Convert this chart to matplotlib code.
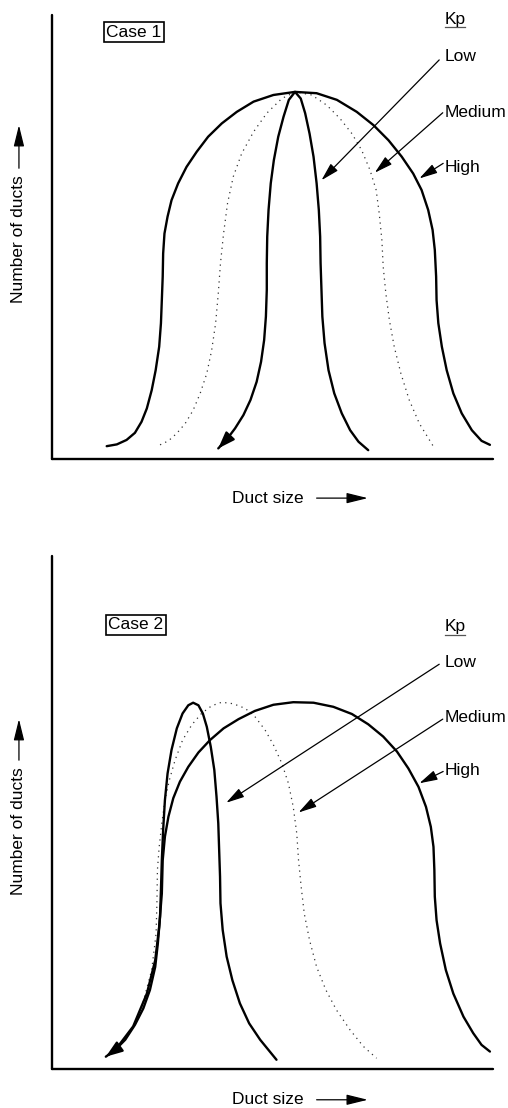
import matplotlib
matplotlib.use("Agg")
import matplotlib.pyplot as plt

plt.rcParams['font.family'] = ['Liberation Sans', 'DejaVu Sans']

# Case 1 curves (duct size, number of ducts) on a 0-100 scale
c1_high_x = [12.4, 14.7, 16.9, 18.8, 20.3, 21.5, 22.6, 23.5, 24.3, 24.7, 24.9, 25.1, 25.2, 25.5, 26.2,
             27.1, 28.6, 30.5, 32.8, 35.4, 38.5, 41.9, 45.7, 50.2, 55.1, 60.0, 64.6, 69.1, 72.9,
             76.3, 79.3, 81.9, 83.8, 85.3, 86.3, 86.8, 87.1, 87.2, 87.6, 88.4, 89.5, 91.0, 92.9,
             95.2, 97.4, 99.3]
c1_high_y = [2.9, 3.3, 4.3, 5.9, 8.4, 11.4, 15.5, 20.0, 25.3, 30.6, 35.8, 41.1, 46.3, 50.8, 54.6,
             58.3, 62.1, 65.8, 69.2, 72.6, 75.6, 78.2, 80.5, 82.0, 82.7, 82.4, 80.9, 78.2, 75.2,
             71.8, 68.1, 64.3, 60.6, 56.1, 51.6, 47.1, 41.1, 35.8, 30.6, 25.3, 20.0, 14.8, 10.3,
             6.5, 4.1, 3.2]
c1_med_x = [24.5, 26.4, 28.3, 30.2, 32.0, 33.6, 35.1, 36.2, 37.1, 37.7, 38.2, 38.9, 39.8, 41.1,
            43.0, 45.7, 48.7, 52.1, 55.1, 58.9, 62.3, 65.3, 68.0, 70.2, 72.1, 73.5, 74.2, 74.8,
            75.1, 75.7, 76.5, 77.6, 79.1, 81.0, 83.3, 86.5]
c1_med_y = [3.2, 4.1, 5.8, 8.0, 11.0, 14.8, 19.3, 24.5, 30.6, 37.3, 44.1, 50.8, 57.6, 63.6,
            68.8, 73.7, 77.9, 81.2, 82.7, 82.0, 79.7, 76.7, 73.3, 69.6, 65.1, 60.6, 55.3, 49.3,
            43.3, 37.3, 31.3, 25.3, 19.3, 13.3, 8.0, 2.8]
c1_low_x = [37.7, 39.6, 41.5, 43.4, 45.0, 46.4, 47.4, 48.1, 48.5, 48.7, 48.7, 48.8, 49.1, 49.6,
            50.3, 51.3, 52.5, 53.7, 55.1, 56.4, 57.4, 58.4, 59.3, 60.0, 60.5, 60.8, 60.9, 61.1,
            61.3, 61.8, 62.7, 64.0, 65.7, 67.6, 69.5, 71.7]
c1_low_y = [2.4, 4.4, 6.9, 9.9, 13.3, 17.4, 21.9, 26.8, 32.1, 38.1, 44.1, 50.1, 56.1, 62.1,
            67.3, 72.6, 77.1, 80.9, 82.7, 81.2, 77.9, 73.3, 68.1, 62.1, 56.1, 50.1, 44.1, 38.1,
            32.1, 26.1, 20.0, 14.8, 10.3, 6.5, 3.9, 2.0]

# Case 2 curves
c2_high_x = [13.9, 18.4, 21.5, 23.4, 24.3, 24.9, 25.1, 25.6, 26.4, 27.5, 29.0, 30.9, 33.2, 35.8,
             38.9, 42.3, 46.0, 50.2, 54.7, 59.3, 63.8, 68.0, 71.7, 75.1, 78.2, 80.8, 83.1, 84.8,
             85.9, 86.5, 86.7, 86.8, 87.2, 88.0, 89.3, 91.0, 93.3, 95.5, 97.4, 99.3]
c2_high_y = [3.2, 8.3, 14.7, 21.2, 27.7, 34.2, 40.7, 45.3, 49.2, 52.8, 56.0, 58.9, 61.7, 64.1,
             66.4, 68.2, 69.8, 71.0, 71.5, 71.4, 70.6, 69.2, 67.2, 64.8, 61.9, 58.6, 55.0, 51.1,
             47.2, 43.3, 38.8, 33.6, 29.0, 24.5, 19.3, 14.7, 10.2, 7.0, 4.7, 3.4]
c2_med_x = [20.0, 22.6, 23.6, 23.8, 23.9, 24.3, 24.9, 25.6, 26.6, 27.9, 29.6, 31.7, 33.9, 36.2,
            38.5, 41.1, 43.8, 46.0, 48.3, 50.2, 52.1, 53.6, 54.7, 55.5, 55.9, 56.5, 57.2, 58.4,
            60.0, 62.1, 64.5, 67.6, 70.6, 73.6]
c2_med_y = [10.9, 19.3, 26.4, 32.9, 38.8, 43.3, 47.9, 52.4, 56.3, 60.2, 64.1, 67.1, 69.3, 70.8,
            71.5, 71.2, 70.3, 68.7, 66.1, 63.2, 59.6, 55.7, 51.1, 45.9, 40.7, 35.5, 30.3, 25.1,
            19.9, 15.4, 11.5, 7.6, 4.4, 2.1]
c2_low_x = [12.2, 14.3, 16.6, 18.8, 20.7, 22.2, 23.4, 24.0, 24.5, 24.7, 24.9, 25.2, 25.6, 26.2,
            27.1, 28.3, 29.6, 30.9, 32.0, 33.2, 34.2, 35.1, 36.0, 36.8, 37.3, 37.7, 37.9, 38.1,
            38.2, 38.7, 39.6, 40.9, 42.6, 44.7, 47.2, 50.9]
c2_low_y = [2.4, 3.7, 5.7, 8.6, 11.8, 15.4, 19.9, 24.5, 29.7, 34.9, 40.7, 46.6, 52.4, 57.6,
            62.2, 66.4, 69.3, 70.9, 71.4, 70.9, 69.3, 66.7, 62.8, 58.3, 53.1, 47.9, 42.7, 37.5,
            32.3, 27.1, 21.9, 17.3, 12.8, 8.9, 5.7, 1.8]

kp_levels = ["Low", "Medium", "High"]

fig = plt.figure(figsize=(5.08, 11.08), dpi=100)
ax1 = fig.add_axes([0.1024, 0.5857, 0.8681, 0.4007])
ax2 = fig.add_axes([0.1024, 0.0352, 0.8681, 0.4630])

big_head = '-|>,head_length=0.65,head_width=0.16'
small_head = '-|>,head_length=0.55,head_width=0.15'


def panel(ax, case, high, med, low, pointers, label_y, kp_y, case_xy, ylab, xlab_y):
    ax.set_xlim(0, 100)
    ax.set_ylim(0, 100)
    for s in ['top', 'right']:
        ax.spines[s].set_visible(False)
    for s in ['left', 'bottom']:
        ax.spines[s].set_linewidth(1.7)
        ax.spines[s].set_capstyle('round')
    ax.set_xticks([])
    ax.set_yticks([])

    ax.plot(med[0], med[1], color='#333333', lw=0.9, ls=(0, (1, 3.5)))
    ax.plot(high[0], high[1], color='black', lw=1.7, solid_capstyle='round', solid_joinstyle='round')
    ax.plot(low[0], low[1], color='black', lw=1.7, solid_capstyle='round', solid_joinstyle='round')
    ax.annotate('', xy=(low[0][0], low[1][0]), xytext=(low[0][1], low[1][1]),
                arrowprops=dict(arrowstyle='-|>,head_length=0.5,head_width=0.18', color='black',
                                lw=1.6, shrinkA=0, shrinkB=0, mutation_scale=20))

    ax.text(case_xy[0], case_xy[1], case, fontsize=12.5, ha='center', va='center',
            bbox=dict(boxstyle='square,pad=0.15', fc='white', ec='black', lw=1.2))

    ax.text(89.1, kp_y, "Kp", fontsize=12.5, ha='left', va='baseline')
    ax.plot([89.0, 93.6], [kp_y - 0.7, kp_y - 0.7], color='#555555', lw=0.9, clip_on=False)

    for name, ly, (tail, head) in zip(kp_levels, label_y, pointers):
        ax.text(89.1, ly, name, fontsize=12.5, ha='left', va='baseline')
        ax.annotate('', xy=head, xytext=tail,
                    arrowprops=dict(arrowstyle=small_head, color='black', lw=0.9,
                                    shrinkA=0, shrinkB=0, mutation_scale=20))

    # axis captions with arrows
    ax.text(-0.075, ylab[0], "Number of ducts", rotation=90, fontsize=12.5,
            ha='center', va='center', transform=ax.transAxes)
    ax.annotate('', xy=(-0.075, ylab[2]), xytext=(-0.075, ylab[1]), xycoords='axes fraction',
                textcoords='axes fraction',
                arrowprops=dict(arrowstyle=big_head, color='black', lw=0.9,
                                shrinkA=0, shrinkB=0, mutation_scale=20))
    ax.text(0.49, xlab_y, "Duct size", fontsize=12.5, ha='center', va='center',
            transform=ax.transAxes)
    ax.annotate('', xy=(0.716, xlab_y), xytext=(0.6, xlab_y), xycoords='axes fraction',
                textcoords='axes fraction',
                arrowprops=dict(arrowstyle=big_head, color='black', lw=0.9,
                                shrinkA=0, shrinkB=0, mutation_scale=20))


panel(ax1, "Case 1", (c1_high_x, c1_high_y), (c1_med_x, c1_med_y), (c1_low_x, c1_low_y),
      [((87.8, 89.9), (61.1, 62.8)), ((88.6, 78.0), (73.2, 64.5)), ((88.7, 66.6), (83.3, 63.2))],
      [89.7, 76.95, 64.6], 98.0, (18.6, 96.1), (0.495, 0.655, 0.752), -0.088)
panel(ax2, "Case 2", (c2_high_x, c2_high_y), (c2_med_x, c2_med_y), (c2_low_x, c2_low_y),
      [((87.8, 78.9), (39.5, 51.9)), ((88.6, 68.2), (55.9, 50.0)), ((88.7, 58.0), (83.3, 55.7))],
      [78.4, 67.6, 57.3], 85.3, (19.0, 86.6), (0.463, 0.602, 0.682), -0.060)

fig.savefig("out.png", dpi=100, facecolor='white')
